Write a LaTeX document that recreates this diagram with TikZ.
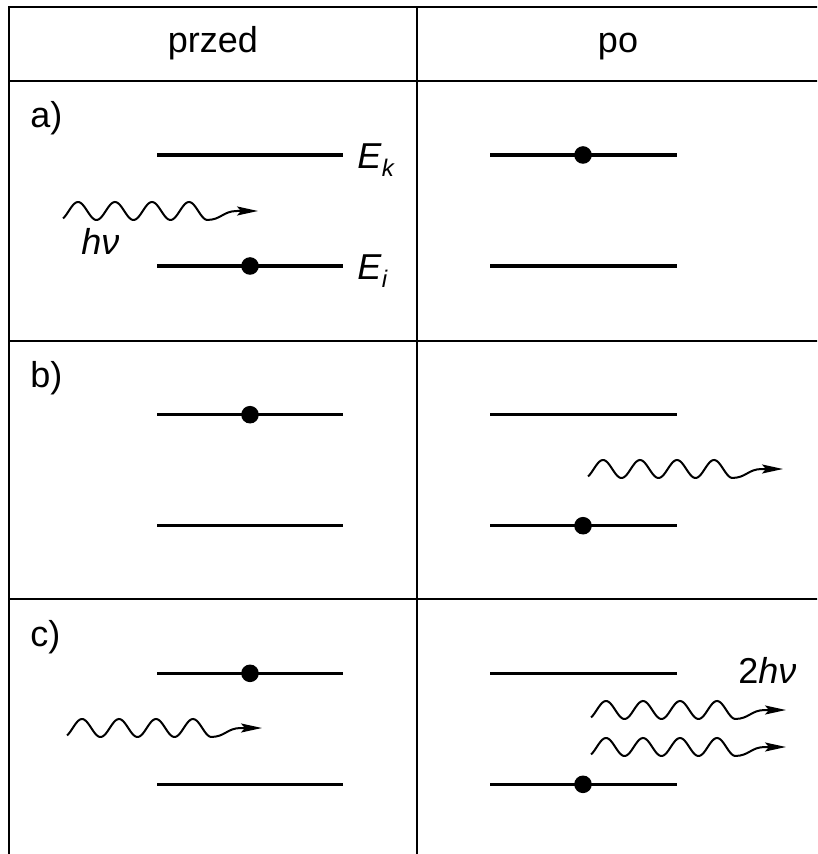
\documentclass[tikz,border=0pt]{standalone}
\usepackage{fontspec}
\setmainfont{Liberation Sans}
\usetikzlibrary{positioning, arrows.meta}

\newcommand{\lvlname}[2]{\textit{#1}\raisebox{-4pt}{\fontsize{12}{12}\selectfont\textit{#2}}}

\begin{document}
\begin{tikzpicture}[
  x=0.5pt, y=-0.5pt,
  grid/.style={line width=1.1pt},
  level/.style={line width=1.6pt},
  electron/.style={circle, fill, inner sep=0pt, minimum size=8.8pt},
  lbl/.style={inner sep=0pt, font=\fontsize{18}{21}\selectfont},
  wave/.style={line width=1pt, -{Stealth[length=10.5pt, width=4.5pt, inset=2pt]}},
  photon/.pic={\draw[wave] plot[domain=0:144, samples=90, smooth] (\x,{-9*cos(9.7297*(\x-15))}) .. controls (158,9) and (160,0) .. (174,0) -- (195,0);}
]
  \useasboundingbox (0,0) rectangle (817,854);
  \clip (0,0) rectangle (817,854);

  % table
  \draw[grid] (9,7) rectangle (820,858);
  \draw[grid] (9,81) -- (820,81);
  \draw[grid] (9,340.7) -- (820,340.7);
  \draw[grid] (9,599.3) -- (820,599.3);
  \draw[grid] (417,7) -- (417,858);

  \node[lbl, anchor=base] (przed) at (213,53) {przed};
  \node[lbl, anchor=base] (po) at (618,53) {po};

  \node[lbl, anchor=base west] (rowa) at (30,128) {a)};
  \node[lbl, anchor=base west] (rowb) at (30,387.7) {b)};
  \node[lbl, anchor=base west] (rowc) at (30,646.3) {c)};

  % energy levels
  \foreach \rowtop in {81,340.7,599.3} {
    \draw[level] (157,\rowtop+74) -- (343,\rowtop+74);
    \draw[level] (157,\rowtop+185) -- (343,\rowtop+185);
    \draw[level] (490,\rowtop+74) -- (677,\rowtop+74);
    \draw[level] (490,\rowtop+185) -- (677,\rowtop+185);
  }

  \node[lbl, anchor=base west] (ek) at (357,169) {\lvlname{E}{k}};
  \node[lbl, anchor=base west] (ei) at (357,280) {\lvlname{E}{i}};

  % electrons
  \node[electron] (ea1) at (250,266) {};
  \node[electron] (ea2) at (583,155) {};
  \node[electron] (eb1) at (250,414.7) {};
  \node[electron] (eb2) at (583,525.7) {};
  \node[electron] (ec1) at (250,673.3) {};
  \node[electron] (ec2) at (583,784.3) {};

  % photons
  \coordinate (pa) at (63,211);
  \coordinate (pb) at (588,469);
  \coordinate (pc1) at (67,728);
  \coordinate (pc2) at (591,710);
  \coordinate (pc3) at (591,747);
  \pic at (pa) {photon};
  \pic at (pb) {photon};
  \pic at (pc1) {photon};
  \pic at (pc2) {photon};
  \pic at (pc3) {photon};

  \node[lbl, anchor=base west] (hv) at (81,255) {\textit{hν}};
  \node[lbl, anchor=base west] (twohv) at (738,683) {2\textit{hν}};
\end{tikzpicture}
\end{document}
